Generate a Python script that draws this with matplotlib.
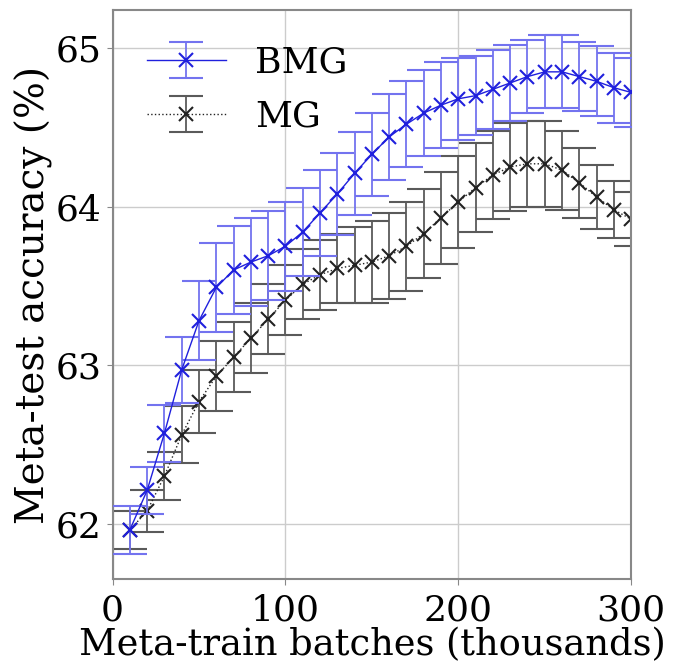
# BMG vs MG meta-test accuracy with error bars

import numpy as np
import matplotlib
matplotlib.use("Agg")
import matplotlib.pyplot as plt

plt.rcParams["font.family"] = "DejaVu Serif"

batches = [10, 20, 30, 40, 50, 60, 70, 80, 90, 100,
           110, 120, 130, 140, 150, 160, 170, 180, 190, 200,
           210, 220, 230, 240, 250, 260, 270, 280, 290, 300]

bmg_mean = [61.96, 62.21, 62.57, 62.97, 63.28, 63.49, 63.60, 63.65, 63.69, 63.75,
            63.84, 63.96, 64.08, 64.21, 64.33, 64.44, 64.52, 64.59, 64.64, 64.68,
            64.70, 64.74, 64.78, 64.82, 64.85, 64.85, 64.82, 64.79, 64.75, 64.72]
bmg_err = [0.15, 0.15, 0.18, 0.21, 0.25, 0.28, 0.28, 0.28, 0.28, 0.28,
           0.28, 0.27, 0.26, 0.26, 0.26, 0.27, 0.27, 0.27, 0.27, 0.26,
           0.25, 0.25, 0.24, 0.23, 0.23, 0.23, 0.22, 0.22, 0.22, 0.22]

mg_mean = [61.96, 62.08, 62.30, 62.56, 62.77, 62.93, 63.05, 63.17, 63.29, 63.41,
           63.51, 63.57, 63.61, 63.63, 63.65, 63.69, 63.75, 63.83, 63.93, 64.03,
           64.12, 64.20, 64.25, 64.27, 64.27, 64.23, 64.15, 64.06, 63.98, 63.92]
mg_err = [0.12, 0.13, 0.15, 0.18, 0.20, 0.22, 0.22, 0.22, 0.22, 0.22,
          0.22, 0.22, 0.22, 0.24, 0.26, 0.27, 0.28, 0.28, 0.29, 0.29,
          0.28, 0.28, 0.28, 0.27, 0.27, 0.25, 0.22, 0.20, 0.18, 0.17]

fig = plt.figure(figsize=(6.78, 6.68), dpi=100)
ax = fig.add_axes([0.166, 0.133, 0.765, 0.852])

ax.errorbar(batches, bmg_mean, yerr=bmg_err, color="#2020dd", marker="x",
            markersize=10, markeredgewidth=1.5, linewidth=1.0,
            ecolor="#7373ef", elinewidth=1.3, capsize=12, capthick=1.5,
            label="BMG", zorder=3)
ax.errorbar(batches, mg_mean, yerr=mg_err, color="#222222", marker="x",
            markersize=10, markeredgewidth=1.5, linewidth=1.0, linestyle=":",
            ecolor="#5a5a5a", elinewidth=1.3, capsize=12, capthick=1.5,
            label="MG", zorder=2)

ax.set_xlim(0, 300)
ax.set_ylim(61.65, 65.24)
ax.set_xticks([0, 100, 200, 300])
ax.set_yticks([62, 63, 64, 65])
ax.tick_params(labelsize=26, length=4, color="#888888")
ax.tick_params(axis="x", pad=6)
ax.tick_params(axis="y", pad=4)
ax.grid(True, color="#cccccc", linewidth=1.0)
for s in ax.spines.values():
    s.set_color("#888888")
    s.set_linewidth(1.5)

ax.set_xlabel("Meta-train batches (thousands)", fontsize=26.5, labelpad=0)
ax.set_ylabel("Meta-test accuracy (%)", fontsize=28, labelpad=2)

ax.legend(loc="upper left", fontsize=26, frameon=False,
          bbox_to_anchor=(0.003, 0.995), handlelength=2.2, labelspacing=0.55,
          handletextpad=0.8)

fig.savefig("out.png", dpi=100)
